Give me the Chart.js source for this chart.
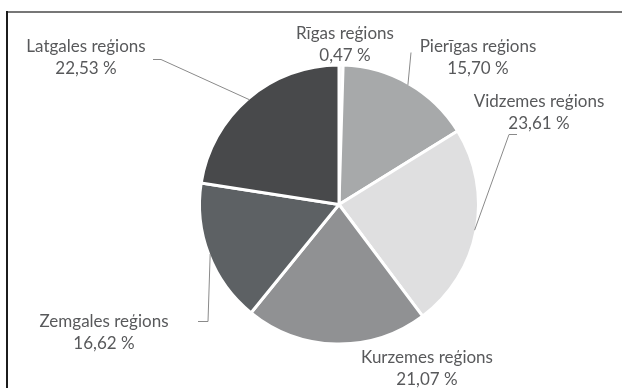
<!DOCTYPE html>
<html>
<head>
<meta charset="utf-8">
<script src="https://cdn.jsdelivr.net/npm/chart.js@4"></script>
<style>
  html, body { margin: 0; padding: 0; background: #fff; }
  #wrap { width: 622px; height: 388px; }
</style>
</head>
<body>
<div id="wrap"><canvas id="pieChart" width="622" height="388"></canvas></div>
<script>
// Region shares, %
const regions = ['Rīgas reģions', 'Pierīgas reģions', 'Vidzemes reģions', 'Kurzemes reģions', 'Zemgales reģions', 'Latgales reģions'];
const shares = [0.47, 15.70, 23.61, 21.07, 16.62, 22.53];
const sliceColors = ['#ececec', '#a7a9aa', '#dfdfe0', '#909193', '#5d6164', '#48494b'];

// Label block position (centre of first line) relative to the pie centre
const labelOffsets = [[6, -171], [139, -158], [200, -103], [88, 153], [-235, 117], [-253, -158]];
// Leader line bends/ends relative to the pie centre, starting from the slice edge
const leaderPoints = [
  null,
  [[72, -152]],
  [[170, -70], [178, -70]],
  null,
  [[-131, 117], [-141, 117]],
  [[-178, -145], [-186, -145]]
];

const LABEL_FONT = '17px Lato, "Open Sans", sans-serif';
const LINE_GAP = 22;

function fmtPct(v) {
  return v.toFixed(2).replace('.', ',') + ' %';
}

// Frame lines along the top and left edge
const framePlugin = {
  id: 'frame',
  beforeDraw(chart) {
    const ctx = chart.ctx;
    ctx.save();
    ctx.lineWidth = 2;
    ctx.strokeStyle = '#777';
    ctx.beginPath();
    ctx.moveTo(6, 12);
    ctx.lineTo(chart.width, 12);
    ctx.stroke();
    ctx.strokeStyle = '#1c1c1c';
    ctx.beginPath();
    ctx.moveTo(7, 11);
    ctx.lineTo(7, chart.height);
    ctx.stroke();
    ctx.restore();
  }
};

// Outside labels with leader lines
const outsideLabels = {
  id: 'outsideLabels',
  afterDatasetsDraw(chart) {
    const ctx = chart.ctx;
    const meta = chart.getDatasetMeta(0);
    ctx.save();
    meta.data.forEach((arc, i) => {
      const p = arc.getProps(['x', 'y', 'startAngle', 'endAngle', 'outerRadius'], true);
      const cx = p.x, cy = p.y;

      const pts = leaderPoints[i];
      if (pts) {
        const mid = (p.startAngle + p.endAngle) / 2;
        const r = p.outerRadius - 1.5;
        ctx.beginPath();
        ctx.lineWidth = 1;
        ctx.strokeStyle = '#8a8a8a';
        ctx.moveTo(cx + Math.cos(mid) * r, cy + Math.sin(mid) * r);
        pts.forEach(pt => ctx.lineTo(cx + pt[0], cy + pt[1]));
        ctx.stroke();
      }

      const lx = cx + labelOffsets[i][0];
      const ly = cy + labelOffsets[i][1];
      ctx.font = LABEL_FONT;
      ctx.fillStyle = '#58595b';
      ctx.textAlign = 'center';
      ctx.textBaseline = 'middle';
      ctx.fillText(chart.data.labels[i], lx, ly);
      ctx.fillText(fmtPct(chart.data.datasets[0].data[i]), lx, ly + LINE_GAP);
    });
    ctx.restore();
  }
};

new Chart(document.getElementById('pieChart').getContext('2d'), {
  type: 'pie',
  data: {
    labels: regions,
    datasets: [{
      data: shares,
      backgroundColor: sliceColors,
      borderColor: '#ffffff',
      borderWidth: 3,
      radius: 139.5
    }]
  },
  options: {
    responsive: false,
    animation: false,
    layout: { padding: { top: 66, bottom: 45, left: 201, right: 145 } },
    plugins: {
      legend: { display: false },
      tooltip: { enabled: false }
    }
  },
  plugins: [framePlugin, outsideLabels]
});
</script>
</body>
</html>
